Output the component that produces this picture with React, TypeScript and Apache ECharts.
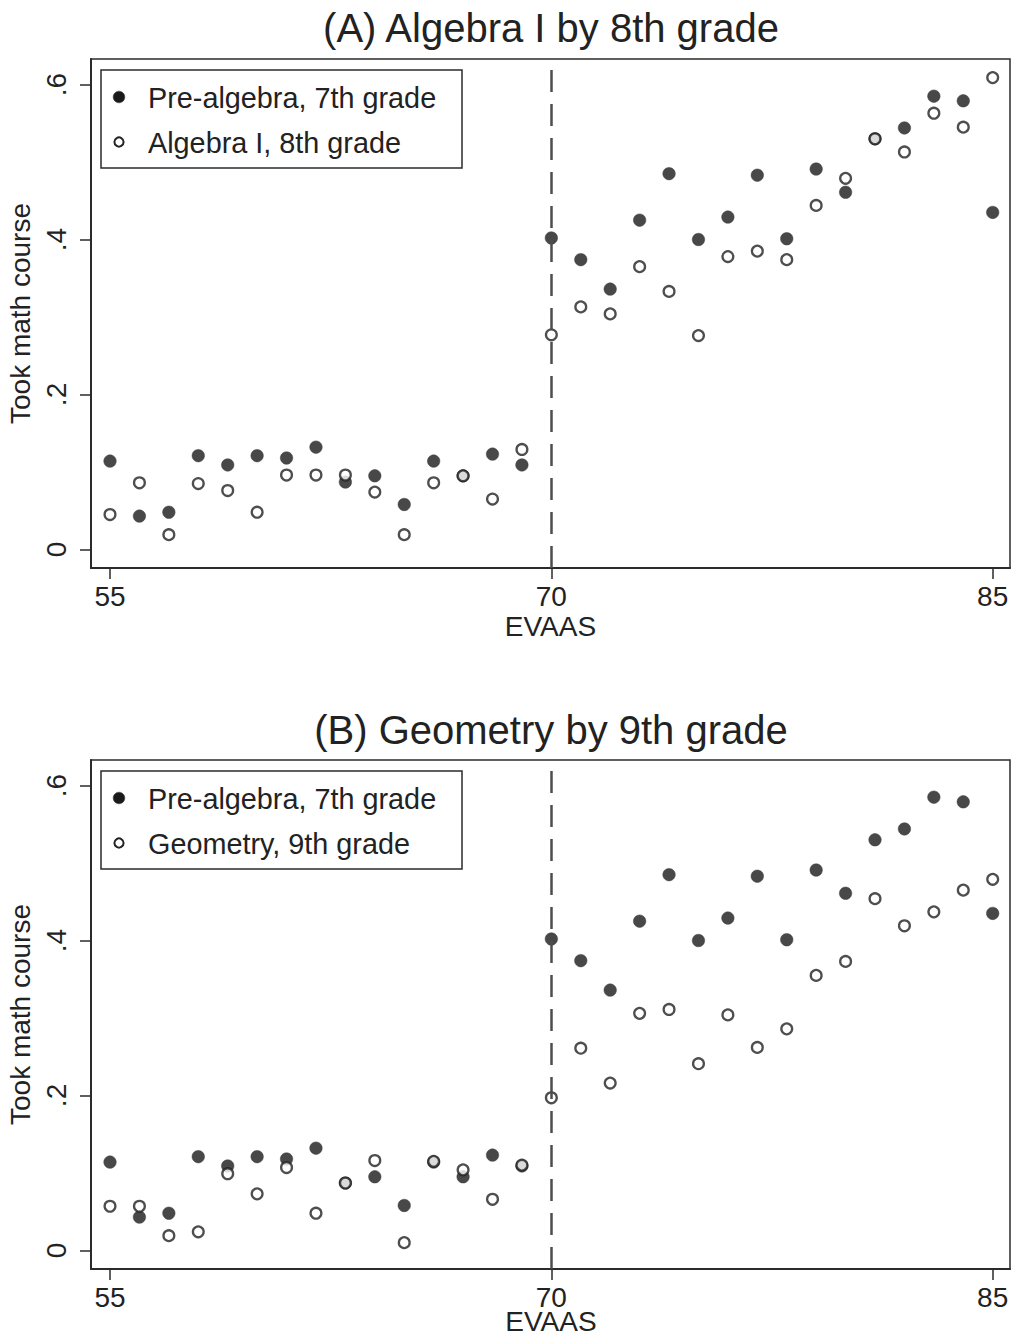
import React, { useEffect, useRef } from "react";
import * as echarts from "echarts";

const evaas = [55, 56, 57, 58, 59, 60, 61, 62, 63, 64, 65, 66, 67, 68, 69, 70, 71, 72, 73, 74, 75, 76, 77, 78, 79, 80, 81, 82, 83, 84, 85];

const preAlgebra7 = [0.114, 0.043, 0.048, 0.121, 0.109, 0.121, 0.118, 0.132, 0.087, 0.095, 0.058, 0.114, 0.095, 0.123, 0.109,
  0.402, 0.374, 0.336, 0.425, 0.485, 0.400, 0.429, 0.483, 0.401, 0.491, 0.461, 0.530, 0.544, 0.585, 0.579, 0.435];

const algebra8 = [0.045, 0.086, 0.019, 0.085, 0.076, 0.048, 0.096, 0.096, 0.096, 0.074, 0.019, 0.086, 0.095, 0.065, 0.129,
  0.277, 0.313, 0.304, 0.365, 0.333, 0.276, 0.378, 0.385, 0.374, 0.444, 0.479, 0.530, 0.513, 0.563, 0.545, 0.609];

const geometry9 = [0.057, 0.057, 0.019, 0.024, 0.099, 0.073, 0.107, 0.048, 0.087, 0.116, 0.010, 0.115, 0.104, 0.066, 0.110,
  0.197, 0.261, 0.216, 0.306, 0.311, 0.241, 0.304, 0.262, 0.286, 0.355, 0.373, 0.454, 0.419, 0.437, 0.465, 0.479];

const xTicks = [55, 70, 85];
const yTicks = [0, 0.2, 0.4, 0.6];
const yTickLabels = ["0", ".2", ".4", ".6"];
const cutoff = 70;

const panelTitles = ["(A) Algebra I by 8th grade", "(B) Geometry by 9th grade"];
const filledName = "Pre-algebra, 7th grade";
const hollowNames = ["Algebra I, 8th grade", "Geometry, 9th grade"];
const xTitle = "EVAAS";
const yTitle = "Took math course";

export default function App() {
  const ref = useRef<HTMLDivElement>(null);
  useEffect(() => {
    if (!ref.current) return;
    const chart = echarts.init(ref.current, null, { renderer: "svg" });
    const font = "'Liberation Sans', Arial, Helvetica, sans-serif";
    const dark = "#222222";
    const axisColor = "#2b2b2b";

    const grids = [
      { left: 91, top: 59, width: 919, height: 509 },
      { left: 91, top: 760, width: 919, height: 509 },
    ];

    const xAxes = grids.map((_, i) => ({
      type: "value",
      gridIndex: i,
      min: 54.354,
      max: 85.588,
      name: i === 0 ? xTitle : "",
      nameLocation: "middle",
      nameGap: 44,
      nameTextStyle: { fontSize: 28, color: dark, fontFamily: font },
      axisLine: { show: true, onZero: false, lineStyle: { color: axisColor, width: 2 } },
      axisTick: { show: true, length: 11, customValues: xTicks, lineStyle: { color: axisColor, width: 1.5 } },
      axisLabel: { show: true, customValues: xTicks, fontSize: 28, margin: 14, color: dark, fontFamily: font, formatter: (v: number) => String(v) },
      splitLine: { show: false },
    }));

    const yAxes = grids.map((_, i) => ({
      type: "value",
      gridIndex: i,
      min: -0.024,
      max: 0.633,
      name: yTitle,
      nameLocation: "middle",
      nameRotate: 90,
      nameGap: 55,
      nameTextStyle: { fontSize: 28, color: dark, fontFamily: font },
      axisLine: { show: true, onZero: false, lineStyle: { color: axisColor, width: 2 } },
      axisTick: { show: true, length: 11, customValues: yTicks, lineStyle: { color: axisColor, width: 1.5 } },
      axisLabel: {
        show: true,
        customValues: yTicks,
        rotate: 90,
        fontSize: 28,
        margin: 21,
        color: dark,
        fontFamily: font,
        formatter: (v: number) => {
          let best = 0;
          yTicks.forEach((t, k) => { if (Math.abs(t - v) < Math.abs(yTicks[best] - v)) best = k; });
          return yTickLabels[best];
        },
      },
      splitLine: { show: false },
    }));

    const hollowData = [algebra8, geometry9];
    const series: any[] = [];
    grids.forEach((_, i) => {
      series.push({
        type: "scatter",
        name: filledName,
        xAxisIndex: i,
        yAxisIndex: i,
        symbol: "circle",
        symbolSize: 12.5,
        itemStyle: { color: "#1a1a1a", borderColor: "#3c3c3c", borderWidth: 0.6 },
        emphasis: { disabled: true },
        z: 3,
        data: evaas.map((x, k) => [x, preAlgebra7[k]]),
        markLine: {
          silent: true,
          symbol: ["none", "none"],
          label: { show: false },
          lineStyle: { type: [22, 12], width: 2.5, color: "#4d4d4d" },
          emphasis: { disabled: true },
          data: [{ xAxis: cutoff }],
        },
      });
      series.push({
        type: "scatter",
        name: hollowNames[i],
        xAxisIndex: i,
        yAxisIndex: i,
        symbol: "circle",
        symbolSize: 10.8,
        itemStyle: { color: "#ffffff", borderColor: "#222222", borderWidth: 2.3 },
        emphasis: { disabled: true },
        z: 4,
        data: evaas.map((x, k) => [x, hollowData[i][k]]),
      });
    });

    const titleY = [28.2, 729.8];
    const legendTop = [70, 771];
    const graphic: any[] = [];
    grids.forEach((g, i) => {
      graphic.push({
        type: "text",
        x: 551,
        y: titleY[i],
        style: { text: panelTitles[i], fontSize: 40, fontFamily: font, fill: dark, textAlign: "center", textVerticalAlign: "middle" },
      });
      const lt = legendTop[i];
      graphic.push({
        type: "rect",
        shape: { x: 101, y: lt, width: 361, height: 98 },
        style: { fill: "#ffffff", stroke: "#2b2b2b", lineWidth: 1.5 },
        z: 10,
      });
      graphic.push({
        type: "circle",
        shape: { cx: 119, cy: lt + 27, r: 5.8 },
        style: { fill: "#1a1a1a", stroke: "#3c3c3c", lineWidth: 0.6 },
        z: 11,
      });
      graphic.push({
        type: "circle",
        shape: { cx: 119, cy: lt + 72, r: 4.6 },
        style: { fill: "#ffffff", stroke: "#222222", lineWidth: 2 },
        z: 11,
      });
      graphic.push({
        type: "text",
        x: 148,
        y: lt + 27.5,
        style: { text: filledName, fontSize: 28.8, fontFamily: font, fill: dark, textAlign: "left", textVerticalAlign: "middle" },
        z: 11,
      });
      graphic.push({
        type: "text",
        x: 148,
        y: lt + 72.5,
        style: { text: hollowNames[i], fontSize: 28.8, fontFamily: font, fill: dark, textAlign: "left", textVerticalAlign: "middle" },
        z: 11,
      });
    });
    // x-axis title of the lower panel, kept just inside the page's bottom edge
    graphic.push({
      type: "text",
      x: 551,
      y: 1321,
      style: { text: xTitle, fontSize: 28, fontFamily: font, fill: dark, textAlign: "center", textVerticalAlign: "middle" },
    });

    chart.setOption({
      animation: false,
      backgroundColor: "#ffffff",
      grid: grids.map((g) => ({
        ...g,
        show: true,
        borderColor: axisColor,
        borderWidth: 1.5,
        backgroundColor: "transparent",
        containLabel: false,
        outerBoundsMode: "none",
      })),
      xAxis: xAxes,
      yAxis: yAxes,
      series,
      graphic,
    });
    return () => chart.dispose();
  }, []);

  return <div ref={ref} style={{ position: "absolute", left: 0, top: 0, width: 1011, height: 1339 }} />;
}
